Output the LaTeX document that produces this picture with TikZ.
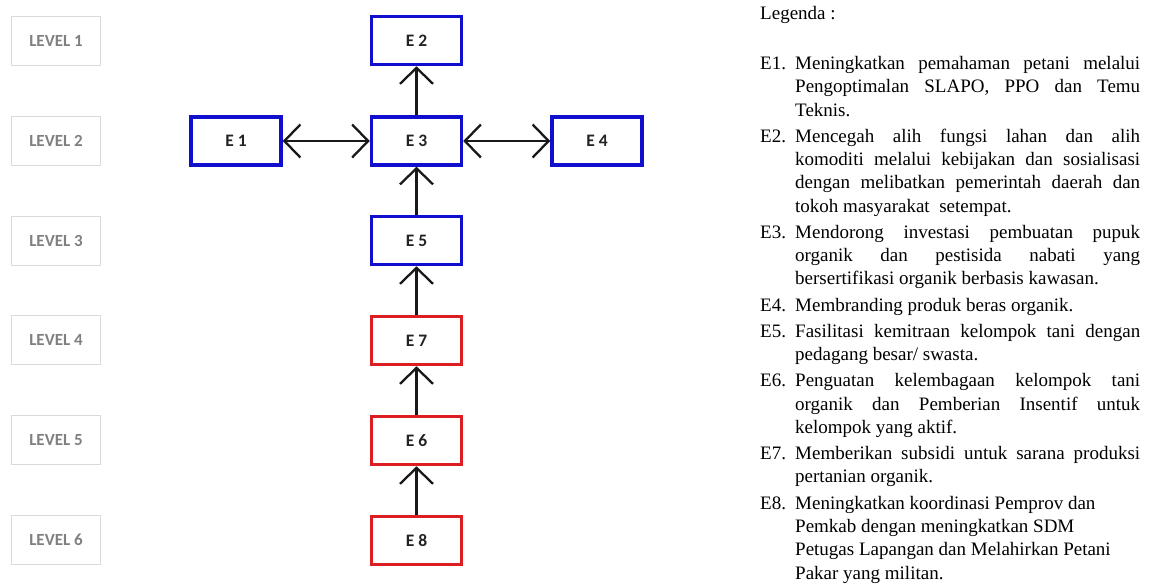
\documentclass[tikz,border=0pt]{standalone}
\usepackage{fontspec}
\setmainfont{Liberation Serif}
\newfontfamily\calib{Carlito}
\usetikzlibrary{arrows.meta}
\definecolor{eblue}{RGB}{15,15,205}
\definecolor{ered}{RGB}{220,30,35}
\definecolor{lvlgray}{RGB}{218,218,218}
\definecolor{lvltext}{RGB}{128,128,128}
\definecolor{etext}{RGB}{35,35,35}
\newcommand\litem[2]{\par\hangindent=35pt\hangafter=1\noindent\makebox[35pt][l]{#1}#2}
\newcommand\rbreak{\hfil\break}
\begin{document}
\begin{tikzpicture}[x=1pt,y=-1pt,
  lvl/.style={draw=lvlgray, line width=1.2pt, minimum width=89pt, minimum height=49pt,
    inner sep=0pt, text=lvltext, font=\calib\bfseries\fontsize{17}{19}\selectfont},
  ebox/.style={draw=#1, line width=3.5pt, fill=white, minimum width=90pt, minimum height=48pt,
    inner sep=0pt, text=etext, font=\calib\bfseries\fontsize{17.5}{19}\selectfont},
  tipb/.tip={Straight Barb[length=16pt,width=33pt,line width=2.3pt]},
  conn/.style={line width=2.3pt, black!90, -tipb},
  bconn/.style={line width=2.3pt, black!90, tipb-tipb},
]
\useasboundingbox (0,0) rectangle (1149,587);
% levels
\node[lvl] (l1) at (56,41) {LEVEL 1};
\node[lvl] (l2) at (56,141) {LEVEL 2};
\node[lvl] (l3) at (56,241) {LEVEL 3};
\node[lvl] (l4) at (56,340) {LEVEL 4};
\node[lvl] (l5) at (56,440) {LEVEL 5};
\node[lvl] (l6) at (56,540) {LEVEL 6};
% E boxes
\node[ebox=eblue] (e2) at (416.5,40.5) {E 2};
\node[ebox=eblue] (e1) at (236,141) {E 1};
\node[ebox=eblue] (e3) at (416.5,141) {E 3};
\node[ebox=eblue] (e4) at (597,141) {E 4};
\node[ebox=eblue] (e5) at (416.5,240.5) {E 5};
\node[ebox=ered] (e7) at (416.5,340.5) {E 7};
\node[ebox=ered] (e6) at (416.5,440.5) {E 6};
\node[ebox=ered] (e8) at (416.5,540.5) {E 8};
% connectors
\draw[conn] (e3) -- (e2);
\draw[bconn] (e1) -- (e3);
\draw[bconn] (e3) -- (e4);
\draw[conn] (e5) -- (e3);
\draw[conn] (e7) -- (e5);
\draw[conn] (e6) -- (e7);
\draw[conn] (e8) -- (e6);
% legend
\node[anchor=base west, inner sep=0pt, font=\fontsize{19}{23.3}\selectfont] (leg) at (760,19) {Legenda :};
\node[anchor=north west, inner sep=0pt, text width=380pt, align=justify,
  font=\fontsize{19}{23.3}\selectfont] (legtext) at (760,43) {%
\tolerance=9999\hyphenpenalty=10000\emergencystretch=20pt\parskip=2.9pt
\litem{E1.}{Meningkatkan pemahaman petani melalui\linebreak Pengoptimalan SLAPO, PPO dan Temu\linebreak Teknis.}
\litem{E2.}{Mencegah alih fungsi lahan dan alih\linebreak komoditi melalui kebijakan dan sosialisasi\linebreak dengan melibatkan pemerintah daerah dan\linebreak tokoh masyarakat\ \ setempat.}
\litem{E3.}{Mendorong investasi pembuatan pupuk\linebreak organik dan pestisida nabati yang\linebreak bersertifikasi organik berbasis kawasan.}
\litem{E4.}{Membranding produk beras organik.}
\litem{E5.}{Fasilitasi kemitraan kelompok tani dengan\linebreak pedagang besar/ swasta.}
\litem{E6.}{Penguatan kelembagaan kelompok tani\linebreak organik dan Pemberian Insentif untuk\linebreak kelompok yang aktif.}
\litem{E7.}{Memberikan subsidi untuk sarana produksi\linebreak pertanian organik.}
\litem{E8.}{Meningkatkan koordinasi Pemprov dan\rbreak Pemkab dengan meningkatkan SDM\rbreak Petugas Lapangan dan Melahirkan Petani\rbreak Pakar yang militan.}\par
};
\end{tikzpicture}
\end{document}
